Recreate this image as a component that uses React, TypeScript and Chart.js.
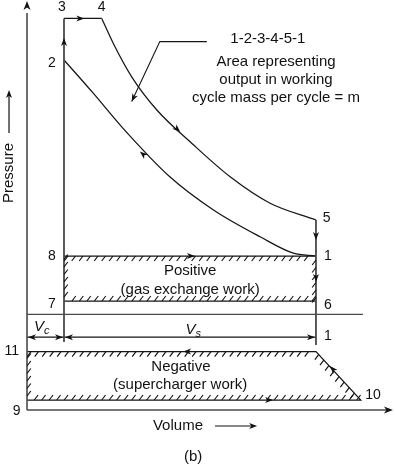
import React, { useEffect, useRef } from 'react';
import { Chart, registerables } from 'chart.js';

Chart.register(...registerables);

const FONT = '"Liberation Sans", Arial, Helvetica, sans-serif';

// ---- Volume levels (arbitrary units, 0 = pressure axis) ----
const V_CLEAR = 10; // clearance volume boundary (points 2,3,7,8)
const V_4 = 20.2; // end of constant-pressure heat addition
const V_BDC = 78.1; // bottom dead centre (points 1,5,6)
const V_10 = 90.2; // point 10
const V_SEP_END = 90.8;
const V_AXIS_END = 98.9;

// ---- Pressure levels (arbitrary units, 0 = volume axis) ----
const P3 = 97.9;
const P_AXIS_END = 102.25;
const P1 = 38.5; // points 8 and 1
const P5 = 47.5;
const P7 = 27.25; // points 7 and 6
const P_SEP = 23.9;
const P_DIM = 18.2;
const P11 = 14.6;
const P9 = 2.5;
const P_CLEAR_LOW = 17;
const P_BDC_LOW = 16.25;

// ---- Expansion 4-5 ----
const expansionV = [20.2, 23.3, 28.3, 35.1, 44.5, 54.9, 65.7, 78.1];
const expansionP = [97.9, 91.7, 83.3, 75.0, 66.7, 58.3, 51.7, 47.5];

// ---- Compression 1-2 ----
const compressionV = [10, 17.9, 25.6, 38.6, 50.4, 63.0, 72.0, 78.1];
const compressionP = [87.5, 79.2, 70.8, 58.3, 50.0, 43.3, 39.2, 38.5];

// ---- Leader line of the annotation ----
const leaderV = [48.6, 35.9, 28.3];
const leaderP = [92.1, 92.1, 77.1];

// ---- Point labels ----
const pointLabels = ['3', '4', '2', '5', '1', '8', '7', '6', '1', '11', '9', '10'];
const pointLabelV = [9.46, 20.2, 6.7, 81.0, 81.3, 6.7, 6.7, 81.3, 81.3, -4.1, -2.8, 93.5];
const pointLabelP = [100.75, 100.75, 86.8, 48.0, 38.5, 38.5, 26.5, 26.25, 18.5, 14.6, -0.25, 3.6];

// ---- Annotation texts ----
const noteTexts = ['1-2-3-4-5-1', 'Area representing', 'output in working', 'cycle mass per cycle = m', 'Positive', '(gas exchange work)', 'Negative', '(supercharger work)', '(b)'];
const noteV = [65.1, 67.3, 67.3, 67.3, 44.1, 44.1, 41.6, 41.4, 44.9];
const noteP = [92.7, 87.1, 82.5, 78.1, 34.8, 30.0, 10.8, 6.4, -11.7];

// ---- Flow arrows: tip and a point behind it ----
const arrowTipV = [10, 15.5, 41.4, 30.5, V_BDC, 45.4, V_BDC, 42.2, 66.5, 81.9, 0, V_AXIS_END, 28.3];
const arrowTipP = [93, P3, 69.5, 64.6, 42.5, P1, 32, P11, P9, 11, P_AXIS_END, 0, 77.1];
const arrowFromV = [10, 10, 35.1, 38.6, V_BDC, 10, V_BDC, 78.1, 0, V_10, 0, 0, 35.9];
const arrowFromP = [80, P3, 75.0, 58.3, P5, P1, P1, P11, P9, P9, 0, 0, 92.1];

const line = (vs: number[], ps: number[]) => vs.map((v, i) => ({ x: v, y: ps[i] }));

const HATCHED: number[][][] = [
  [[V_CLEAR, P1], [V_BDC, P1], [V_BDC, P7], [V_CLEAR, P7]],
  [[0, P11], [V_BDC, P11], [V_10, P9], [0, P9]],
];

function arrowHead(ctx: CanvasRenderingContext2D, tx: number, ty: number, fx: number, fy: number, len = 8, half = 3) {
  const ang = Math.atan2(ty - fy, tx - fx);
  ctx.save();
  ctx.translate(tx, ty);
  ctx.rotate(ang);
  ctx.beginPath();
  ctx.moveTo(0, 0);
  ctx.lineTo(-len, -half);
  ctx.lineTo(-len * 0.72, 0);
  ctx.lineTo(-len, half);
  ctx.closePath();
  ctx.fill();
  ctx.restore();
}

const diagramPlugin = {
  id: 'diagram',
  afterDatasetsDraw(chart: any) {
    const ctx: CanvasRenderingContext2D = chart.ctx;
    const xs = chart.scales.x;
    const ys = chart.scales.y;
    const px = (v: number) => xs.getPixelForValue(v);
    const py = (p: number) => ys.getPixelForValue(p);
    ctx.save();

    // hatching
    ctx.strokeStyle = '#111';
    ctx.lineWidth = 1.15;
    for (const poly of HATCHED) {
      const pts = poly.map(([v, p]) => [px(v), py(p)]);
      const cx = pts.reduce((s, q) => s + q[0], 0) / pts.length;
      const cy = pts.reduce((s, q) => s + q[1], 0) / pts.length;
      for (let i = 0; i < pts.length; i++) {
        const a = pts[i];
        const b = pts[(i + 1) % pts.length];
        const dx = b[0] - a[0];
        const dy = b[1] - a[1];
        const len = Math.hypot(dx, dy);
        const ux = dx / len;
        const uy = dy / len;
        let nx = -uy;
        let ny = ux;
        const mx = (a[0] + b[0]) / 2;
        const my = (a[1] + b[1]) / 2;
        if ((cx - mx) * nx + (cy - my) * ny < 0) { nx = -nx; ny = -ny; }
        let tx = 3.8;
        let ty = -5;
        if (tx * nx + ty * ny < 0) { tx = -tx; ty = -ty; }
        const step = 7.5;
        const n = Math.floor((len - 6) / step);
        for (let k = 0; k <= n; k++) {
          const s = 4 + k * step;
          const sx = a[0] + ux * s;
          const sy = a[1] + uy * s;
          ctx.beginPath();
          ctx.moveTo(sx, sy);
          ctx.lineTo(sx + tx, sy + ty);
          ctx.stroke();
        }
      }
    }

    // flow arrows
    ctx.fillStyle = '#111';
    for (let i = 0; i < arrowTipV.length; i++) {
      const big = i === 10 || i === 11;
      arrowHead(ctx, px(arrowTipV[i]), py(arrowTipP[i]), px(arrowFromV[i]), py(arrowFromP[i]), big ? 9 : 8, big ? 3.5 : 3);
    }

    // dimension arrows
    const yd = py(P_DIM);
    arrowHead(ctx, px(0) + 1, yd, px(5), yd);
    arrowHead(ctx, px(V_CLEAR) - 1, yd, px(5), yd);
    arrowHead(ctx, px(V_CLEAR) + 1, yd, px(40), yd);
    arrowHead(ctx, px(V_BDC) - 1, yd, px(40), yd);

    // axis labels
    ctx.fillStyle = '#111';
    ctx.strokeStyle = '#111';
    ctx.lineWidth = 1.2;
    ctx.font = `15px ${FONT}`;
    ctx.textAlign = 'center';
    ctx.textBaseline = 'middle';
    ctx.save();
    ctx.translate(px(-4.86), py(59.25));
    ctx.rotate(-Math.PI / 2);
    ctx.fillText('Pressure', 0, 0);
    ctx.restore();
    ctx.beginPath();
    ctx.moveTo(px(-4.86), py(69.25));
    ctx.lineTo(px(-4.86), py(80) + 4);
    ctx.stroke();
    arrowHead(ctx, px(-4.86), py(80), px(-4.86), py(69.25), 8, 3);

    ctx.fillText('Volume', px(40.8), py(-4));
    ctx.beginPath();
    ctx.moveTo(px(50.8), py(-4));
    ctx.lineTo(px(62.2) - 4, py(-4));
    ctx.stroke();
    arrowHead(ctx, px(62.2), py(-4), px(50.8), py(-4), 8, 3);

    // notes
    for (let i = 0; i < noteTexts.length; i++) {
      ctx.font = `15px ${FONT}`;
      ctx.fillText(noteTexts[i], px(noteV[i]), py(noteP[i]));
    }

    // point labels
    ctx.font = `14px ${FONT}`;
    for (let i = 0; i < pointLabels.length; i++) {
      ctx.fillText(pointLabels[i], px(pointLabelV[i]), py(pointLabelP[i]));
    }

    // V_c, V_s
    const sub = (main: string, s: string, v: number, p: number) => {
      ctx.font = `italic 15px ${FONT}`;
      const w1 = ctx.measureText(main).width;
      ctx.font = `italic 11px ${FONT}`;
      const w2 = ctx.measureText(s).width;
      const x0 = px(v) - (w1 + w2) / 2;
      const y0 = py(p);
      ctx.textAlign = 'left';
      ctx.font = `italic 15px ${FONT}`;
      ctx.fillText(main, x0, y0);
      ctx.font = `italic 11px ${FONT}`;
      ctx.fillText(s, x0 + w1, y0 + 4);
      ctx.textAlign = 'center';
    };
    sub('V', 'c', 4.0, 20.75);
    sub('V', 's', 44.9, 20.0);

    ctx.restore();
  },
};

export default function App() {
  const ref = useRef<HTMLCanvasElement | null>(null);
  useEffect(() => {
    if (!ref.current) return;
    const gray = '#4a4a4a';
    const black = '#151515';
    const ds = (data: any[], color: string, width: number, curve = false) => ({
      data,
      showLine: true,
      borderColor: color,
      borderWidth: width,
      pointRadius: 0,
      fill: false,
      tension: 0,
      cubicInterpolationMode: curve ? 'monotone' : 'default',
    });
    const datasets: any[] = [
      ds(line([0, 0], [0, P_AXIS_END - 3]), gray, 1.6),
      ds(line([0, V_AXIS_END - 1], [0, 0]), gray, 1.6),
      ds(line([V_CLEAR, V_CLEAR], [P_CLEAR_LOW, P3]), gray, 1.8),
      ds(line([V_CLEAR, V_4], [P3, P3]), black, 1.25),
      ds(line(expansionV, expansionP), black, 1.25, true),
      ds(line([V_BDC, V_BDC], [P5, P_BDC_LOW]), gray, 1.8),
      ds(line(compressionV, compressionP), black, 1.25, true),
      ds(line([V_CLEAR, V_BDC], [P1, P1]), black, 1.25),
      ds(line([V_CLEAR, V_BDC], [P7, P7]), black, 1.25),
      ds(line([0, V_SEP_END], [P_SEP, P_SEP]), gray, 1.3),
      ds(line([0, V_BDC, V_10, 0], [P11, P11, P9, P9]), black, 1.25),
      ds(line([0, V_BDC], [P_DIM, P_DIM]), black, 1.2),
      ds(line(leaderV, leaderP), black, 1.1),
    ];
    const chart = new Chart(ref.current, {
      type: 'scatter',
      data: { datasets },
      options: {
        animation: false,
        responsive: false,
        maintainAspectRatio: false,
        events: [],
        layout: { padding: 0 },
        plugins: { legend: { display: false }, tooltip: { enabled: false }, title: { display: false } },
        scales: {
          x: { type: 'linear', display: false, min: -27 / 3.7, max: (395 - 27) / 3.7 },
          y: { type: 'linear', display: false, min: (410 - 464) / 4, max: 410 / 4 },
        },
      },
      plugins: [diagramPlugin],
    } as any);
    return () => chart.destroy();
  }, []);
  return (
    <div style={{ position: 'absolute', left: 0, top: 0, width: 395, height: 464, background: '#fff' }}>
      <canvas ref={ref} width={395} height={464} style={{ display: 'block' }} />
    </div>
  );
}
